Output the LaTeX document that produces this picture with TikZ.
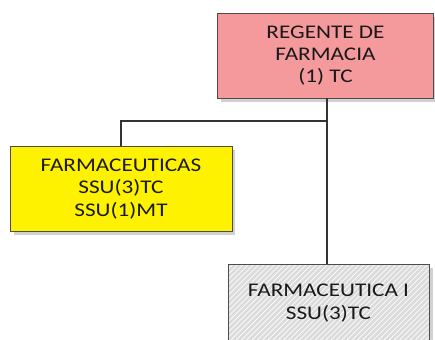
\documentclass[tikz,border=0pt]{standalone}
\usepackage{fontspec}
\setmainfont[FakeStretch=1.2]{Carlito}
\usepackage{xcolor}
\usetikzlibrary{shapes,positioning,shadows,patterns}
\definecolor{rosa}{HTML}{F59A9C}
\definecolor{linea}{HTML}{333333}
\tikzset{caja/.style={rectangle,draw=gray!60!black,line width=0.5pt,align=center,font=\fontsize{11}{12.6}\selectfont,text=black!90,
    drop shadow={shadow xshift=2pt,shadow yshift=-2pt,fill=gray!60,opacity=0.6}},
  enlace/.style={draw=linea,line width=1.3pt}}

\begin{document}
\begin{tikzpicture}[x=0.02cm,y=-0.02cm]
    \useasboundingbox (0,0) rectangle (435,339);
    \node[caja,fill=rosa,minimum width=4.32cm,minimum height=1.7cm] (reg)at (325.5,55.5) {REGENTE DE\\FARMACIA\\(1) TC};
    \node[caja,fill=yellow,minimum width=4.44cm,minimum height=1.7cm] (far)at (121,189) {FARMACEUTICAS\\SSU(3)TC\\SSU(1)MT};
    \node[caja,fill=gray!28,postaction={pattern=north east lines,pattern color=white},postaction={draw=gray!60!black,line width=0.5pt},
      minimum width=4.02cm,minimum height=1.56cm] (fi)at (328.5,303) {FARMACEUTICA I\\SSU(3)TC};
    \coordinate (j) at (327,121);

    \draw [enlace] (reg.south -| j) to [] (j) to [] (fi.north -| j);
    \draw [enlace] (j) -| (far.north);
\end{tikzpicture}
\end{document}
